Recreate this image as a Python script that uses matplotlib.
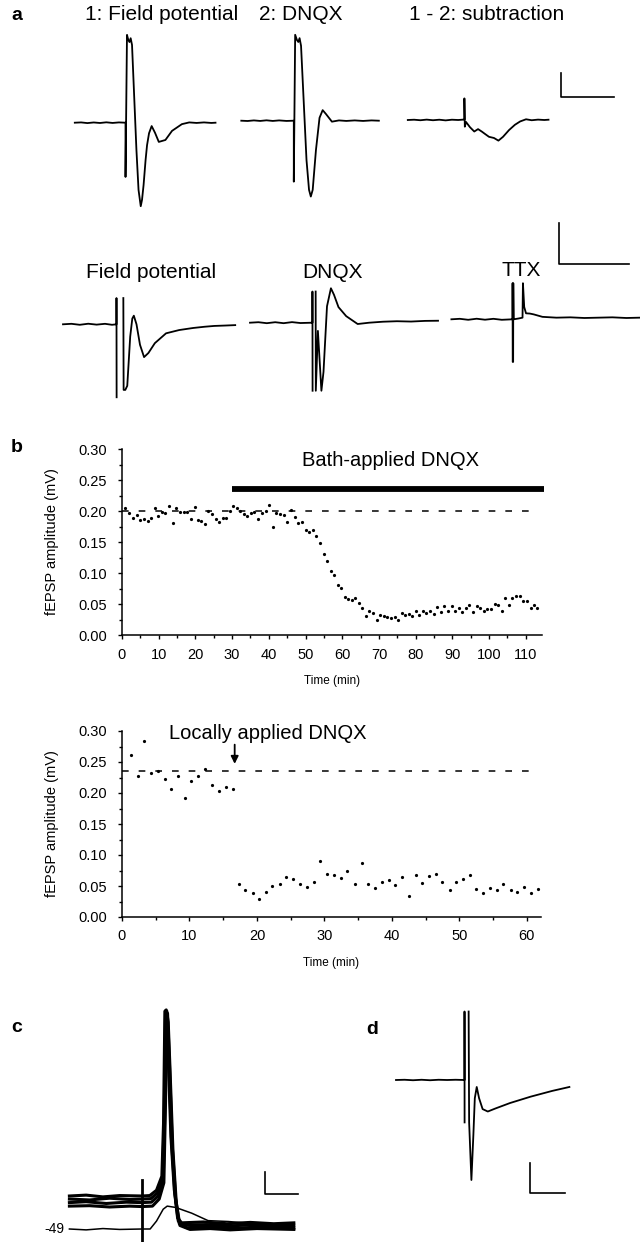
import numpy as np
import matplotlib
matplotlib.use("Agg")
import matplotlib.pyplot as plt
from matplotlib.ticker import MultipleLocator, FormatStrFormatter

plt.rcParams['font.family'] = ['Liberation Sans', 'DejaVu Sans']
plt.rcParams['lines.scale_dashes'] = False

W, H = 640, 1242

# ---- panel a, top row traces (t in ms, v in mV relative to baseline)
a1_fp = [(0, 0), (0.6, 0.006), (1.2, -0.008), (1.8, 0.005), (2.4, -0.006), (3.0, 0.008), (3.6, -0.005),
         (4.2, 0.006), (4.83, 0), (4.83, -1.13), (4.97, 1.83), (5.10, 1.72), (5.21, 1.68), (5.32, 1.76),
         (5.45, 1.62), (5.87, -0.57), (6.07, -1.4), (6.28, -1.74), (6.40, -1.61), (6.55, -1.30),
         (6.74, -0.78), (6.88, -0.47), (7.07, -0.22), (7.32, -0.07), (7.64, -0.21), (8.0, -0.40),
         (8.63, -0.36), (9.26, -0.17), (10.2, -0.03), (10.9, 0.006), (11.6, -0.005), (12.3, 0.006),
         (13.0, -0.005), (13.4, 0)]
a1_dnqx = [(0, 0), (0.6, -0.006), (1.2, 0.006), (1.8, -0.005), (2.4, 0.008), (3.0, -0.005), (3.6, 0.006),
           (4.3, -0.005), (5.0, 0), (5.0, -1.27), (5.13, 1.79), (5.30, 1.68), (5.43, 1.64), (5.55, 1.72),
           (5.69, 1.56), (6.21, -0.82), (6.45, -1.44), (6.62, -1.58), (6.80, -1.44), (7.11, -0.61),
           (7.45, 0.06), (7.75, 0.22), (8.06, 0.14), (8.63, -0.02), (9.3, 0.006), (10.0, -0.005),
           (10.8, 0.006), (11.6, -0.005), (12.4, 0.006), (13.1, 0)]
a1_sub = [(0, 0), (0.6, 0.006), (1.2, -0.005), (1.8, 0.008), (2.4, -0.005), (3.0, 0.006), (3.6, -0.008),
          (4.2, 0.006), (4.8, 0.0), (5.39, 0.01), (5.39, 0.45), (5.43, -0.14), (5.54, -0.04), (5.92, -0.15),
          (6.33, -0.24), (6.69, -0.19), (7.04, -0.24), (7.35, -0.29), (7.73, -0.35), (8.21, -0.375),
          (8.63, -0.43), (9.07, -0.35), (9.64, -0.21), (10.2, -0.10), (10.7, -0.03), (11.26, 0.015),
          (11.8, -0.005), (12.4, 0.008), (13.0, 0.0), (13.4, 0.006)]

# ---- panel a, bottom row traces
a2_fp = [(0, 0), (0.6, 0.006), (1.2, -0.006), (1.8, 0.007), (2.4, -0.004), (3.0, 0.006), (3.5, -0.006),
         (3.82, 0), (3.82, 0.32), (3.83, -0.89), (3.9, np.nan), (4.31, 0.32), (4.33, -0.80),
         (4.45, -0.80), (4.59, -0.75), (4.8, -0.15), (4.95, 0.07), (5.06, 0.105), (5.25, 0.0),
         (5.5, -0.25), (5.79, -0.40), (6.1, -0.35), (6.56, -0.23), (7.36, -0.11), (8.3, -0.07),
         (9.29, -0.045), (10.1, -0.03), (10.8, -0.02), (11.6, -0.015), (12.3, -0.01)]
a2_dnqx = [(0, 0), (0.6, 0.006), (1.2, -0.006), (1.8, 0.006), (2.4, -0.006), (3.0, 0.007), (3.6, -0.004),
           (4.46, 0), (4.46, 0.38), (4.47, -0.83), (4.55, np.nan), (4.69, 0.38), (4.70, -0.83),
           (4.85, -0.1), (5.1, -0.83), (5.25, -0.6), (5.5, 0.2), (5.78, 0.42), (6.0, 0.34),
           (6.32, 0.19), (6.87, 0.08), (7.69, -0.016), (8.51, 0.0), (9.5, 0.012), (10.5, 0.018),
           (11.5, 0.014), (12.5, 0.022), (13.43, 0.024)]
a2_ttx = [(0, 0), (0.6, 0.006), (1.2, -0.006), (1.8, 0.007), (2.4, -0.005), (3.0, 0.006), (3.6, -0.006),
          (4.37, 0), (4.37, 0.44), (4.38, -0.52), (4.41, -0.52), (4.42, 0.44), (4.45, 0.0), (4.8, 0.01),
          (5.08, 0.02), (5.11, 0.44), (5.2, 0.15), (5.33, 0.073), (5.6, 0.07), (5.88, 0.06), (6.5, 0.03),
          (7.5, 0.02), (8.5, 0.024), (9.5, 0.016), (10.5, 0.02), (11.5, 0.024), (12.5, 0.016), (13.47, 0.02)]

# ---- panel b, bath application (time min, amplitude mV)
bath_t = [0.8, 2.0, 3.1, 4.0, 4.9, 6.0, 7.0, 7.9, 9.0, 9.9, 10.8, 11.7, 12.8, 13.8, 14.8, 15.8, 16.9,
          17.8, 18.7, 19.8, 20.7, 21.6, 22.6, 23.5, 24.6, 25.5, 26.4, 27.4, 28.3, 29.4, 30.3, 31.2, 32.2,
          33.2, 34.0, 35.1, 36.0, 37.1, 38.1, 39.1, 40.1, 41.1, 42.0, 42.9, 44.0, 45.0, 46.0, 47.0, 48.0,
          49.0, 50.0, 51.0, 51.9, 52.8, 53.8,
          54.9, 55.8, 56.8, 57.7, 58.7, 59.7, 60.7, 61.6, 62.6, 63.6, 64.5, 65.5, 66.5, 67.4, 68.4, 69.4,
          70.4, 71.4, 72.3, 73.2, 74.3, 75.2, 76.2, 77.2, 78.1, 79.0, 80.1, 81.0, 82.0, 82.9, 83.9, 84.9,
          85.9, 86.8, 87.8, 88.8, 89.8, 90.7, 91.7, 92.7, 93.6, 94.6, 95.6, 96.6, 97.5, 98.6, 99.5, 100.5,
          101.6, 102.5, 103.5, 104.4, 105.4, 106.3, 107.4, 108.4, 109.3, 110.3, 111.3, 112.2, 113.1]
bath_amp = [0.205, 0.197, 0.189, 0.193, 0.186, 0.187, 0.184, 0.188, 0.205, 0.192,
            0.198, 0.196, 0.208, 0.181, 0.205, 0.199, 0.199, 0.198, 0.187, 0.207,
            0.185, 0.184, 0.179, 0.200, 0.195, 0.187, 0.183, 0.189, 0.189, 0.200,
            0.208, 0.205, 0.200, 0.195, 0.192, 0.197, 0.198, 0.187, 0.197, 0.200,
            0.210, 0.174, 0.197, 0.195, 0.193, 0.183, 0.201, 0.191, 0.181, 0.183,
            0.170, 0.166, 0.170, 0.160, 0.148,
            0.131, 0.119, 0.103, 0.096, 0.080, 0.076, 0.061, 0.058, 0.056, 0.060,
            0.051, 0.044, 0.031, 0.038, 0.036, 0.024, 0.032, 0.030, 0.029, 0.028,
            0.029, 0.025, 0.035, 0.032, 0.034, 0.031, 0.038, 0.033, 0.038, 0.036,
            0.039, 0.034, 0.045, 0.037, 0.047, 0.039, 0.046, 0.039, 0.044, 0.037,
            0.043, 0.048, 0.037, 0.047, 0.043, 0.038, 0.042, 0.042, 0.050, 0.049,
            0.039, 0.059, 0.048, 0.059, 0.063, 0.063, 0.055, 0.055, 0.043, 0.048, 0.044]
bath_baseline = 0.20
bath_on, bath_off = 30, 115

# ---- panel b, local application
local_t = [1.3, 2.3, 3.3, 4.3, 5.3, 6.3, 7.3, 8.3, 9.3, 10.3, 11.3, 12.3, 13.3, 14.4, 15.4, 16.4,
           17.3, 18.3, 19.4, 20.3, 21.3, 22.3, 23.4, 24.3, 25.4, 26.4, 27.4, 28.4, 29.4, 30.4, 31.4,
           32.4, 33.4, 34.5, 35.5, 36.4, 37.5, 38.5, 39.5, 40.5, 41.5, 42.5, 43.5, 44.5, 45.5, 46.5,
           47.5, 48.6, 49.5, 50.6, 51.6, 52.5, 53.5, 54.6, 55.6, 56.5, 57.6, 58.5, 59.6, 60.6, 61.6]
local_amp = [0.262, 0.227, 0.284, 0.232, 0.236, 0.222, 0.207, 0.227, 0.192, 0.220, 0.227, 0.238,
             0.213, 0.203, 0.209, 0.207,
             0.054, 0.044, 0.039, 0.029, 0.041, 0.050, 0.054, 0.064, 0.062, 0.053, 0.049, 0.056,
             0.091, 0.069, 0.067, 0.063, 0.074, 0.053, 0.087, 0.054, 0.046, 0.056, 0.059, 0.052,
             0.065, 0.034, 0.067, 0.055, 0.066, 0.070, 0.056, 0.044, 0.057, 0.062, 0.067, 0.045,
             0.039, 0.047, 0.043, 0.053, 0.043, 0.040, 0.049, 0.038, 0.045]
local_baseline = 0.235
local_drug_t = 16.7

# ---- panel c (t in ms, v in mV)
c_spikes = [
    [(0, -41.5), (5, -41.3), (10, -41.7), (15, -41.4), (21.7, -41.5),
     (24.0, -41.4), (26.0, -40.2), (27.6, -37.0), (28.1, -25), (28.5, 0.5), (28.9, 0.8), (29.4, -8),
     (30.3, -28), (31.3, -40), (32.3, -46.5), (33.5, -47.6), (40, -47.4), (47, -47.8), (54, -47.5),
     (61, -47.8), (67, -47.6)],
    [(0, -42.2), (6, -42.4), (12, -42.0), (18, -42.3), (21.7, -42.2),
     (24.3, -42.1), (26.3, -40.8), (27.8, -37.5), (28.3, -24), (28.7, 0.3), (29.1, 0.5), (29.6, -9),
     (30.5, -29), (31.5, -41), (32.5, -47.2), (34, -48.1), (41, -48.0), (48, -48.3), (55, -48.0),
     (62, -48.3), (67, -48.2)],
    [(0, -43.0), (5, -42.8), (11, -43.2), (17, -42.9), (21.7, -43.0),
     (24.5, -42.9), (26.5, -41.5), (28.0, -38), (28.5, -22), (28.9, 0.2), (29.3, 0.0), (29.8, -10),
     (30.7, -30), (31.7, -42), (32.8, -47.8), (35, -48.7), (42, -48.5), (49, -48.8), (56, -48.6),
     (67, -48.8)],
    [(0, -43.8), (6, -43.7), (12, -44.0), (18, -43.8), (21.7, -43.9),
     (24.8, -43.8), (26.8, -42.2), (28.2, -38.5), (28.7, -20), (29.1, 0.0), (29.5, -2), (30.0, -12),
     (30.9, -31), (31.9, -43), (33.0, -48.2), (36, -49.1), (42, -48.9), (48, -49.2), (56, -48.9),
     (67, -49.1)],
]
c_epsp = [(0, -49.0), (5, -49.2), (10, -48.9), (15, -49.1), (21.7, -49.0), (24.1, -49.0),
          (26.0, -47.2), (28.0, -44.5), (29.2, -43.8), (31.7, -44.1), (36.5, -45.4), (41.4, -47.1),
          (47.5, -47.3), (55, -47.8), (67, -48.1)]
c_stim = [(21.7, -37.9), (21.7, -52.0)]
c_rest = -49

# ---- panel d
d_trace = [(0, 0), (1.2, 0.004), (2.4, -0.004), (3.6, 0.004), (4.8, -0.004), (6.0, 0.004), (7.2, 0),
           (8.4, 0.004), (9.65, 0), (9.65, 1.13), (9.66, -0.70), (9.9, np.nan), (10.23, 1.13),
           (10.30, -0.70), (10.62, -1.65), (10.9, -0.9), (11.1, -0.3), (11.37, -0.115), (11.7, -0.3),
           (12.2, -0.48), (12.93, -0.52), (14, -0.47), (16.06, -0.38), (18.96, -0.275), (22, -0.18),
           (24.42, -0.115)]

fig = plt.figure(figsize=(W / 100, H / 100), dpi=100)


def px_axes(left, top, right, bottom):
    ax = fig.add_axes([left / W, 1 - bottom / H, (right - left) / W, (bottom - top) / H])
    ax.patch.set_visible(False)
    return ax


def trace_axes(x0, y0, px_ms, px_mv, t_max, v_lo, v_hi, v_ref=0.0):
    ax = px_axes(x0, y0 - (v_hi - v_ref) * px_mv, x0 + t_max * px_ms, y0 + (v_ref - v_lo) * px_mv)
    ax.set_xlim(0, t_max)
    ax.set_ylim(v_lo, v_hi)
    ax.axis('off')
    return ax


def draw_trace(ax, pairs, lw=1.3):
    arr = np.array(pairs, dtype=float)
    ax.plot(arr[:, 0], arr[:, 1], color='k', lw=lw, clip_on=False, solid_joinstyle='round')


def single_trace(pairs, x0, y0, px_ms, px_mv, lw=1.3):
    arr = np.array(pairs, dtype=float)
    ax = trace_axes(x0, y0, px_ms, px_mv, np.nanmax(arr[:, 0]), np.nanmin(arr[:, 1]), np.nanmax(arr[:, 1]))
    draw_trace(ax, pairs, lw)
    return ax


def scalebar(ax, t0, v0, dt, dv):
    ax.plot([t0, t0, t0 + dt], [v0 + dv, v0, v0], color='k', lw=1.2, clip_on=False)


def label(x, y, s, **kw):
    fig.text(x / W, 1 - y / H, s, ha='center', va='center', **kw)


# panel a
single_trace(a1_fp, 74.8, 122.7, 10.5, 48)
single_trace(a1_dnqx, 241.3, 120.7, 10.5, 48)
ax = single_trace(a1_sub, 407.8, 120.0, 10.5, 48)
scalebar(ax, 14.62, 0.48, 5, 0.5)

single_trace(a2_fp, 63, 324.3, 14, 82)
single_trace(a2_dnqx, 250, 322.7, 14, 82)
ax = single_trace(a2_ttx, 451.4, 319.3, 14, 82)
scalebar(ax, 7.69, 0.68, 5, 0.5)

label(17, 16, 'a', fontsize=14, fontweight='bold')
label(162, 15, '1: Field potential', fontsize=15)
label(301, 15, '2: DNQX', fontsize=15)
label(487, 15, '1 - 2: subtraction', fontsize=15)
label(151, 272, 'Field potential', fontsize=15)
label(333, 272, 'DNQX', fontsize=15)
label(521, 270, 'TTX', fontsize=15)


# panel b
def style_b(ax, xmax):
    ax.set_xlim(0, xmax)
    ax.set_ylim(0, 0.30)
    for s in ('top', 'right'):
        ax.spines[s].set_visible(False)
    for s in ('left', 'bottom'):
        ax.spines[s].set_linewidth(1.1)
    ax.xaxis.set_major_locator(MultipleLocator(10))
    ax.xaxis.set_minor_locator(MultipleLocator(5))
    ax.yaxis.set_major_locator(MultipleLocator(0.05))
    ax.yaxis.set_minor_locator(MultipleLocator(0.025))
    ax.yaxis.set_major_formatter(FormatStrFormatter('%.2f'))
    ax.tick_params(which='major', direction='out', length=3, width=1, labelsize=10.5)
    ax.tick_params(which='minor', direction='out', length=2, width=1)
    ax.tick_params(axis='y', which='major', pad=8)
    ax.tick_params(axis='x', which='major', pad=6)
    ax.set_ylabel('fEPSP amplitude (mV)', fontsize=10.5)
    ax.yaxis.set_label_coords(-0.15, 0.5)
    ax.set_xlabel('Time (min)', fontsize=8.5)
    ax.xaxis.set_label_coords(0.5, -0.215)


axb1 = px_axes(122, 449, 542, 635)
style_b(axb1, 114.4)
axb1.plot([0, 112], [bath_baseline, bath_baseline], color='k', lw=1.1, ls=(0, (4.8, 7.2)))
axb1.plot(bath_t, bath_amp, 'o', color='k', ms=2.3, mec='none')
axb1.plot([bath_on, bath_off], [0.235, 0.235], color='k', lw=4.2, solid_capstyle='butt', clip_on=False)
axb1.text(73, 0.281, 'Bath-applied DNQX', fontsize=14.5, ha='center', va='center')

axb2 = px_axes(122, 731, 541, 917)
style_b(axb2, 62.1)
axb2.plot([0, 60.7], [local_baseline, local_baseline], color='k', lw=1.1, ls=(0, (4.8, 7.2)))
axb2.plot(local_t, local_amp, 'o', color='k', ms=2.3, mec='none')
axb2.annotate('', xy=(local_drug_t, 0.247), xytext=(local_drug_t, 0.278),
              arrowprops=dict(arrowstyle='-|>', color='k', lw=1.3, mutation_scale=11,
                              shrinkA=0, shrinkB=0))
axb2.text(21.6, 0.296, 'Locally applied DNQX', fontsize=14.5, ha='center', va='center')
label(17, 447, 'b', fontsize=14, fontweight='bold')

# panel c
axc = trace_axes(69.4, 1229, 3.35, 4.4, 67, -52, 1, v_ref=c_rest)
for tr in c_spikes:
    draw_trace(axc, tr, lw=2.2)
draw_trace(axc, c_epsp, lw=1.1)
draw_trace(axc, c_stim, lw=2.0)
scalebar(axc, 58.3, -41.05, 10, 5)
axc.text(-1.5, c_rest, '-49', fontsize=10, ha='right', va='center')
label(17, 1027, 'c', fontsize=14, fontweight='bold')

# panel d
ax = single_trace(d_trace, 396, 1080, 7.1, 60.6)
scalebar(ax, 18.85, -1.87, 5, 0.5)
label(372, 1030, 'd', fontsize=14, fontweight='bold')

fig.savefig('out.png', dpi=100)
